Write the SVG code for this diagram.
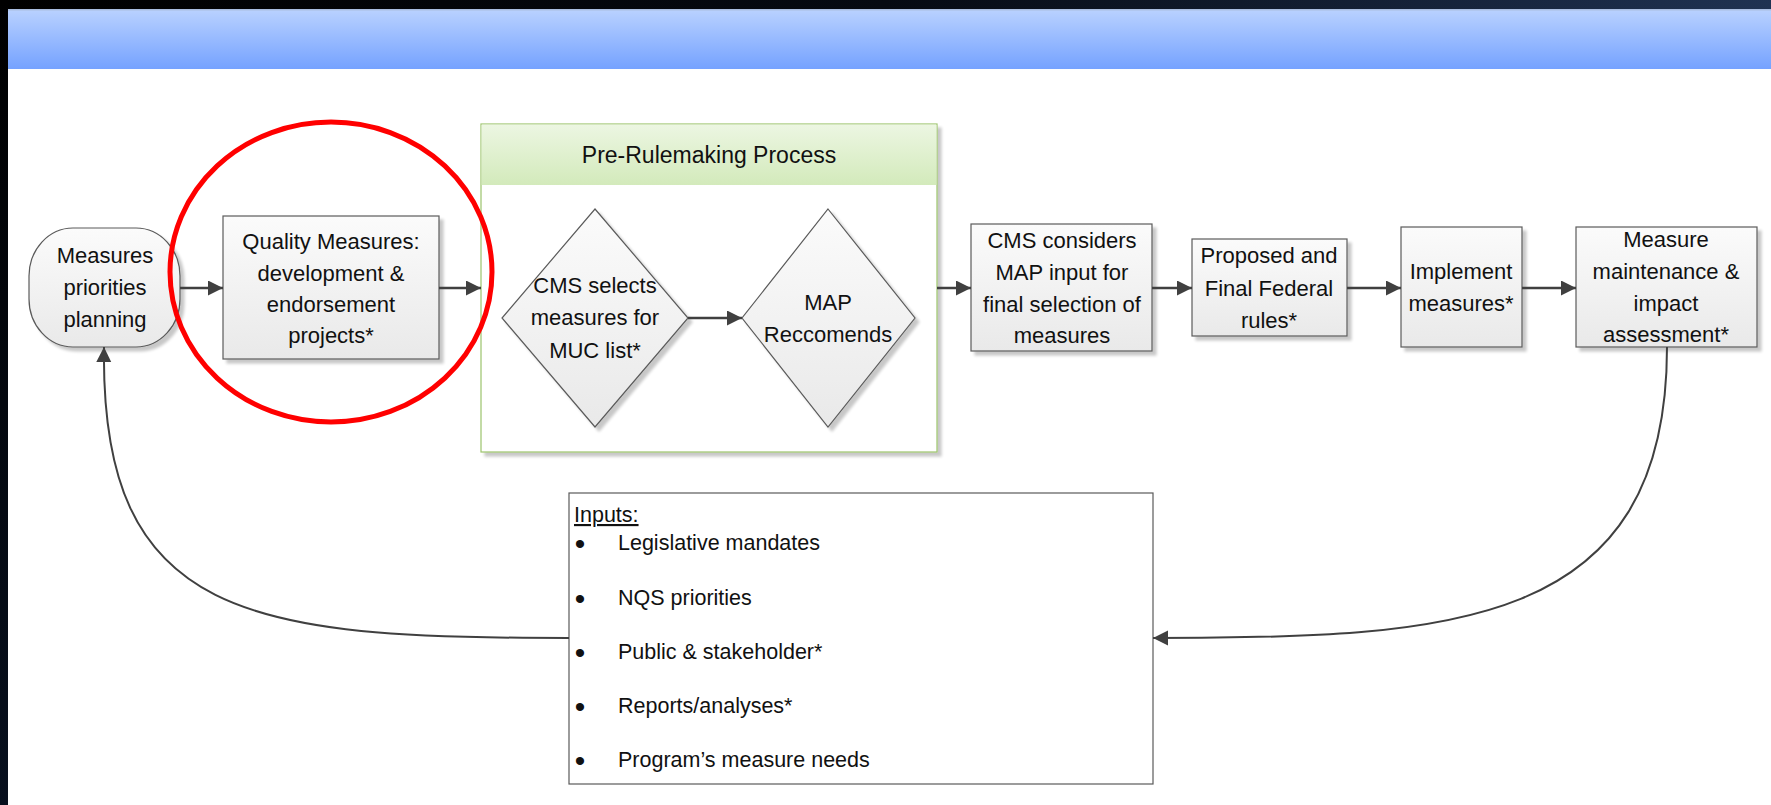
<svg xmlns="http://www.w3.org/2000/svg" width="1771" height="805" viewBox="0 0 1771 805">
<defs>
<linearGradient id="topBar" x1="0" y1="0" x2="1" y2="0"><stop offset="0" stop-color="#000"/><stop offset="0.5" stop-color="#060a12"/><stop offset="1" stop-color="#1f3252"/></linearGradient>
<linearGradient id="leftBar" x1="0" y1="0" x2="0" y2="1"><stop offset="0" stop-color="#000"/><stop offset="1" stop-color="#08101e"/></linearGradient>
<linearGradient id="blueBand" x1="0" y1="0" x2="0" y2="1"><stop offset="0" stop-color="#bad2ff"/><stop offset="1" stop-color="#75a2ff"/></linearGradient>
<linearGradient id="boxFill" x1="0" y1="0" x2="0" y2="1"><stop offset="0" stop-color="#fbfbfb"/><stop offset="1" stop-color="#e9e9e9"/></linearGradient>
<linearGradient id="greenHead" x1="0" y1="0" x2="0" y2="1"><stop offset="0" stop-color="#ecf6e2"/><stop offset="1" stop-color="#d3eabb"/></linearGradient>
<filter id="shadow" x="-10%" y="-10%" width="125%" height="125%"><feGaussianBlur in="SourceAlpha" stdDeviation="1.5"/><feOffset dx="4" dy="4" result="o"/><feComponentTransfer><feFuncA type="linear" slope="0.22"/></feComponentTransfer><feMerge><feMergeNode/><feMergeNode in="SourceGraphic"/></feMerge></filter>
<marker id="arrow" markerUnits="userSpaceOnUse" markerWidth="16" markerHeight="16" refX="15" refY="7.5" orient="auto" viewBox="0 0 16 16"><path d="M0,0 L15,7.5 L0,15 z" fill="#404040"/></marker>
</defs>
<style>
.t{font-family:"Liberation Sans",Arial,sans-serif;font-size:22px;fill:#111;text-anchor:middle}
.l{font-family:"Liberation Sans",Arial,sans-serif;font-size:21.5px;fill:#111}
.b{font-family:"Liberation Sans",Arial,sans-serif;font-size:30px;fill:#111;text-anchor:middle}
.box{fill:url(#boxFill);stroke:#5a5a5a;stroke-width:1.2}
.conn{fill:none;stroke:#404040;stroke-width:2.5;marker-end:url(#arrow)}
.curve{fill:none;stroke:#404040;stroke-width:2;marker-end:url(#arrow)}
</style>
<rect x="0" y="0" width="1771" height="805" fill="#fff"/>
<rect x="0" y="0" width="1771" height="9" fill="url(#topBar)"/>
<rect x="0" y="0" width="8" height="805" fill="url(#leftBar)"/>
<rect x="8" y="9" width="1763" height="60" fill="url(#blueBand)"/>
<rect x="8" y="9" width="1763" height="1.5" fill="#a9bde0"/>

<g id="node-planning">
<rect x="29" y="228" width="151" height="119" rx="44" ry="48" class="box" filter="url(#shadow)"/>
<text class="t" x="105" y="263">Measures</text>
<text class="t" x="105" y="295">priorities</text>
<text class="t" x="105" y="327">planning</text>
</g>

<g id="node-quality">
<rect x="223" y="216" width="216" height="143" class="box" filter="url(#shadow)"/>
<text class="t" x="331" y="249">Quality Measures:</text>
<text class="t" x="331" y="281">development &amp;</text>
<text class="t" x="331" y="312">endorsement</text>
<text class="t" x="331" y="343">projects*</text>
</g>

<g id="node-prerulemaking">
<rect x="481" y="124" width="456" height="328" fill="#fff" stroke="#9cc46c" stroke-width="1.2" filter="url(#shadow)"/>
<rect x="481.6" y="124.6" width="454.8" height="60.4" fill="url(#greenHead)"/>
<text class="t" x="709" y="163" style="font-size:23px">Pre-Rulemaking Process</text>
</g>

<g id="node-cms-selects">
<polygon points="595,209 688,318 595,427 502,318" class="box" filter="url(#shadow)"/>
<text class="t" x="595" y="293">CMS selects</text>
<text class="t" x="595" y="325">measures for</text>
<text class="t" x="595" y="358">MUC list*</text>
</g>

<g id="node-map">
<polygon points="828,209 915,318 828,427 742,318" class="box" filter="url(#shadow)"/>
<text class="t" x="828" y="310">MAP</text>
<text class="t" x="828" y="342">Reccomends</text>
</g>

<g id="node-cms-considers">
<rect x="971" y="224" width="181" height="127" class="box" filter="url(#shadow)"/>
<text class="t" x="1062" y="248">CMS considers</text>
<text class="t" x="1062" y="280">MAP input for</text>
<text class="t" x="1062" y="312">final selection of</text>
<text class="t" x="1062" y="343">measures</text>
</g>

<g id="node-federal-rules">
<rect x="1192" y="239" width="155" height="97" class="box" filter="url(#shadow)"/>
<text class="t" x="1269" y="263">Proposed and</text>
<text class="t" x="1269" y="296">Final Federal</text>
<text class="t" x="1269" y="328">rules*</text>
</g>

<g id="node-implement">
<rect x="1401" y="227" width="121" height="120" class="box" filter="url(#shadow)"/>
<text class="t" x="1461" y="279">Implement</text>
<text class="t" x="1461" y="311">measures*</text>
</g>

<g id="node-maintenance">
<rect x="1576" y="227" width="181" height="120" class="box" filter="url(#shadow)"/>
<text class="t" x="1666" y="247">Measure</text>
<text class="t" x="1666" y="279">maintenance &amp;</text>
<text class="t" x="1666" y="311">impact</text>
<text class="t" x="1666" y="342">assessment*</text>
</g>

<g id="node-inputs">
<rect x="569" y="493" width="584" height="291" fill="#fff" stroke="#5a5a5a" stroke-width="1.2"/>
<text class="l" x="574" y="522" text-decoration="underline">Inputs:</text>
<text class="b" x="580" y="554">•</text><text class="l" x="618" y="550">Legislative mandates</text>
<text class="b" x="580" y="609">•</text><text class="l" x="618" y="605">NQS priorities</text>
<text class="b" x="580" y="663">•</text><text class="l" x="618" y="659">Public &amp; stakeholder*</text>
<text class="b" x="580" y="717">•</text><text class="l" x="618" y="713">Reports/analyses*</text>
<text class="b" x="580" y="771">•</text><text class="l" x="618" y="767">Program’s measure needs</text>
</g>

<g id="connectors">
<line class="conn" x1="180" y1="288" x2="223" y2="288"/>
<line class="conn" x1="439" y1="288" x2="481" y2="288"/>
<line class="conn" x1="688" y1="318" x2="742" y2="318"/>
<line class="conn" x1="937" y1="288" x2="971" y2="288"/>
<line class="conn" x1="1152" y1="288" x2="1192" y2="288"/>
<line class="conn" x1="1347" y1="288" x2="1401" y2="288"/>
<line class="conn" x1="1522" y1="288" x2="1576" y2="288"/>
<path class="curve" d="M1667,347 C1667,630 1450,638 1153,638"/>
<path class="curve" d="M569,638 C250,638 100,620 104,347"/>
</g>

<g id="highlight">
<ellipse cx="331" cy="272" rx="161" ry="150" fill="none" stroke="#ff0000" stroke-width="5"/>
</g>
</svg>
